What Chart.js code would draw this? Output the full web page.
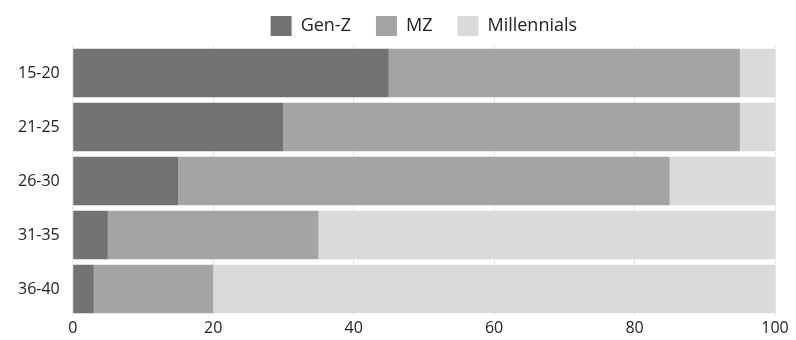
<!DOCTYPE html>
<html>
<head>
<meta charset="utf-8">
<script src="https://cdn.jsdelivr.net/npm/chart.js@4"></script>
<style>
  html, body { margin: 0; padding: 0; background: #ffffff; }
  #wrap { width: 796px; height: 340px; position: relative; }
</style>
</head>
<body>
<div id="wrap"><canvas id="c"></canvas></div>
<script>
// Age groups and share (%) of each generation label
const categories = ['15-20', '21-25', '26-30', '31-35', '36-40'];
const genZ = [45, 30, 15, 5, 3];
const mz = [50, 65, 70, 30, 17];
const millennials = [5, 5, 15, 65, 80];
const xTicks = [0, 20, 40, 60, 80, 100];

const FONT = "'Open Sans', 'Noto Sans', sans-serif";

new Chart(document.getElementById('c'), {
  type: 'bar',
  data: {
    labels: categories,
    datasets: [
      { label: 'Gen-Z', data: genZ, backgroundColor: '#727272' },
      { label: 'MZ', data: mz, backgroundColor: '#a4a4a4' },
      { label: 'Millennials', data: millennials, backgroundColor: '#dadada' }
    ]
  },
  options: {
    indexAxis: 'y',
    responsive: true,
    maintainAspectRatio: false,
    animation: false,
    layout: { padding: { left: 5, right: 21, top: -9, bottom: 0 } },
    datasets: { bar: { barPercentage: 0.9, categoryPercentage: 1.0 } },
    plugins: {
      tooltip: { enabled: false },
      legend: {
        position: 'top',
        fullSize: false,
        labels: {
          font: { family: FONT, size: 18 },
          color: '#222222',
          boxWidth: 21,
          boxHeight: 20,
          padding: 25
        }
      }
    },
    scales: {
      x: {
        stacked: true,
        min: 0,
        max: 100,
        afterBuildTicks: (axis) => { axis.ticks = xTicks.map(v => ({ value: v })); },
        grid: { color: '#e6e6e6', drawTicks: false },
        border: { display: false },
        ticks: { font: { family: FONT, size: 16, lineHeight: 1 }, color: '#222222', padding: 4, maxRotation: 0 }
      },
      y: {
        stacked: true,
        grid: { display: false, drawTicks: false },
        border: { display: false },
        ticks: { font: { family: FONT, size: 16, lineHeight: 1 }, color: '#222222', padding: 13 }
      }
    }
  }
});
</script>
</body>
</html>
